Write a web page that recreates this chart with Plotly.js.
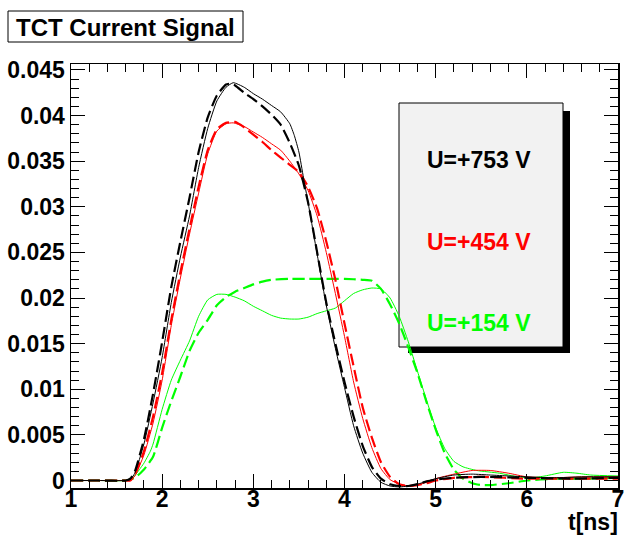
<!DOCTYPE html>
<html>
<head>
<meta charset="utf-8">
<script src="https://cdn.plot.ly/plotly-3.0.1.min.js"></script>
<style>html,body{margin:0;padding:0;background:#fff;}#chart{width:644px;height:542px;}</style>
</head>
<body>
<div id="chart"></div>
<script>
// ---- data (t in ns, current signal) ----
const t753s = [1.0,1.3,1.6,1.65,1.7,1.8,1.9,2.0,2.1,2.2,2.3,2.4,2.5,2.6,2.7,2.78,2.9,3.0,3.1,3.2,3.3,3.4,3.45,3.5,3.55,3.6,3.7,3.8,3.9,4.0,4.1,4.2,4.3,4.4,4.5,4.6,4.7,4.8,4.9,5.0,5.2,5.4,5.6,5.8,6.0,6.3,6.6,7.0];
const v753s = [0,0,0,0.0001,0.0008,0.0040,0.0085,0.0135,0.0195,0.0245,0.0290,0.0343,0.0386,0.0416,0.0431,0.0436,0.0431,0.0424,0.0418,0.0411,0.0404,0.0391,0.0378,0.0360,0.0332,0.0305,0.0248,0.0192,0.0145,0.0102,0.0060,0.0030,0.0009,-0.0002,-0.0006,-0.0007,-0.0006,-0.0004,-0.0001,0.0002,0.0006,0.0007,0.0006,0.0005,0.0004,0.0003,0.0004,0.0004];

const t753d = [1.0,1.3,1.6,1.65,1.7,1.8,1.9,2.0,2.1,2.2,2.3,2.4,2.5,2.6,2.7,2.75,2.8,2.9,3.0,3.1,3.2,3.3,3.4,3.5,3.6,3.7,3.8,3.9,4.0,4.1,4.2,4.3,4.4,4.5,4.6,4.7,4.8,4.9,5.0,5.2,5.5,6.0,6.5,7.0];
const v753d = [0,0,0,0.0002,0.0010,0.0045,0.0095,0.0152,0.0212,0.0262,0.0310,0.0360,0.0398,0.0422,0.0434,0.0435,0.0433,0.0425,0.0418,0.0410,0.0401,0.0390,0.0370,0.0345,0.0305,0.0250,0.0195,0.0150,0.0108,0.0070,0.0038,0.0015,0.0002,-0.0004,-0.0006,-0.0006,-0.0004,-0.0001,0.0001,0.0003,0.0004,0.0003,0.0002,0.0003];

const t454s = [1.0,1.3,1.6,1.65,1.7,1.8,1.9,2.0,2.1,2.2,2.3,2.4,2.5,2.6,2.7,2.78,2.9,3.0,3.1,3.2,3.3,3.4,3.5,3.6,3.7,3.8,3.9,4.0,4.1,4.2,4.3,4.4,4.5,4.6,4.7,4.8,4.9,5.0,5.2,5.4,5.6,5.8,6.0,6.3,6.6,7.0];
const v454s = [0,0,0,0,0.0005,0.0028,0.0063,0.0110,0.0170,0.0222,0.0270,0.0315,0.0358,0.0383,0.0391,0.0392,0.0388,0.0382,0.0376,0.0369,0.0362,0.0350,0.0336,0.0318,0.0290,0.0250,0.0205,0.0158,0.0108,0.0068,0.0036,0.0013,0.0001,-0.0004,-0.0006,-0.0005,-0.0002,0.0002,0.0007,0.0011,0.0011,0.0008,0.0004,0.0003,0.0004,0.0004];

const t454d = [1.0,1.3,1.6,1.65,1.7,1.8,1.9,2.0,2.1,2.2,2.3,2.4,2.5,2.6,2.7,2.8,2.9,3.0,3.1,3.2,3.3,3.4,3.5,3.6,3.7,3.8,3.9,4.0,4.1,4.2,4.3,4.4,4.5,4.6,4.7,4.8,4.9,5.0,5.2,5.5,6.0,6.5,7.0];
const v454d = [0,0,0,0,0.0006,0.0032,0.0070,0.0118,0.0176,0.0228,0.0276,0.0322,0.0362,0.0385,0.0392,0.0393,0.0387,0.0379,0.0371,0.0362,0.0354,0.0346,0.0338,0.0322,0.0298,0.0262,0.0220,0.0172,0.0125,0.0080,0.0047,0.0020,0.0004,-0.0004,-0.0006,-0.0005,-0.0003,0.0000,0.0003,0.0004,0.0002,0.0002,0.0002];

const t154s = [1.0,1.3,1.6,1.68,1.75,1.8,1.87,1.9,2.0,2.1,2.2,2.3,2.4,2.5,2.6,2.7,2.8,2.9,3.0,3.1,3.2,3.3,3.4,3.5,3.6,3.7,3.8,3.9,4.0,4.1,4.2,4.3,4.4,4.5,4.6,4.7,4.8,4.9,5.0,5.1,5.2,5.3,5.45,5.7,5.9,6.05,6.2,6.4,6.55,6.7,7.0];
const v154s = [0,0,0,0.0003,0.0012,0.0019,0.0032,0.0040,0.0078,0.0110,0.0132,0.0153,0.0180,0.0198,0.0204,0.0204,0.0201,0.0197,0.0191,0.0186,0.0181,0.0178,0.0177,0.0177,0.0179,0.0183,0.0186,0.0189,0.0197,0.0205,0.0209,0.0211,0.0210,0.0200,0.0180,0.0152,0.0120,0.0088,0.0058,0.0035,0.0021,0.0015,0.0011,0.0008,0.0004,0.0003,0.0005,0.0009,0.0008,0.0006,0.0005];

const t154d = [1.0,1.3,1.6,1.7,1.76,1.8,1.9,2.0,2.1,2.2,2.3,2.4,2.5,2.6,2.7,2.8,2.9,3.0,3.1,3.2,3.4,3.6,3.8,4.0,4.2,4.3,4.4,4.5,4.6,4.7,4.8,4.9,5.0,5.1,5.2,5.3,5.4,5.5,5.6,5.8,6.0,6.3,6.6,7.0];
const v154d = [0,0,0,0.0003,0.0008,0.0012,0.0026,0.0058,0.0087,0.0114,0.0142,0.0162,0.0176,0.0192,0.0201,0.0207,0.0211,0.0215,0.0218,0.0220,0.0221,0.0221,0.0221,0.0221,0.0220,0.0219,0.0210,0.0193,0.0172,0.0146,0.0118,0.0086,0.0056,0.0030,0.0012,0.0002,-0.0003,-0.0005,-0.0005,-0.0003,0.0000,0.0002,0.0002,0.0003];

const xTickVals = [1,2,3,4,5,6,7];
const xTickText = ["1","2","3","4","5","6","7"];
const yTickVals = [0,0.005,0.01,0.015,0.02,0.025,0.03,0.035,0.04,0.045];
const yTickText = ["0","0.005","0.01","0.015","0.02","0.025","0.03","0.035","0.04","0.045"];
const xMinorStep = 0.2, yMinorStep = 0.001;
const legendLabels = ["U=+753 V","U=+454 V","U=+154 V"];
const seriesColors = ["#000000","#ff0000","#00ff00"];
const chartTitle = "TCT Current Signal";
const xTitle = "t[ns]";

// ---- layout geometry (pixels) ----
const W = 644, H = 542;
const M = {l:71, r:26, t:64, b:54};
const PW = W - M.l - M.r, PH = H - M.t - M.b;
const px = x => (x - M.l) / PW;
const py = y => (H - M.b - y) / PH;
const xRange = [1, 7], yRange = [-0.00082, 0.04565];

function minorVals(lo, hi, step) {
  const out = [];
  const n0 = Math.ceil(lo / step - 1e-9), n1 = Math.floor(hi / step + 1e-9);
  for (let n = n0; n <= n1; n++) out.push(+(n * step).toFixed(6));
  return out;
}

const FONT = "Liberation Sans, Arial, Helvetica, sans-serif";

function solid(t, v, c) {
  return {x:t, y:v, type:'scatter', mode:'lines', hoverinfo:'skip', showlegend:false,
          line:{color:c, width:1, shape:'spline', smoothing:0.5}};
}
function dashed(t, v, c) {
  return {x:t, y:v, type:'scatter', mode:'lines', hoverinfo:'skip', showlegend:false,
          line:{color:c, width:2.2, dash:'12px,5px', shape:'spline', smoothing:0.5}};
}

const data = [
  solid(t154s, v154s, seriesColors[2]),
  dashed(t154d, v154d, seriesColors[2]),
  solid(t454s, v454s, seriesColors[1]),
  dashed(t454d, v454d, seriesColors[1]),
  solid(t753s, v753s, seriesColors[0]),
  dashed(t753d, v753d, seriesColors[0])
];

const axisCommon = {
  showline:true, linecolor:'black', linewidth:1.5, mirror:'allticks',
  ticks:'inside', ticklen:14, tickwidth:1, tickcolor:'black',
  showgrid:false, zeroline:false, tickmode:'array',
  tickfont:{family:FONT, size:23, color:'black', weight:'bold'}
};

const layout = {
  width:W, height:H, margin:M,
  paper_bgcolor:'white', plot_bgcolor:'rgba(0,0,0,0)',
  showlegend:false,
  xaxis: Object.assign({}, axisCommon, {
    range:xRange, tickvals:xTickVals, ticktext:xTickText, ticklabelstandoff:-10,
    minor:{tickmode:'array', tickvals:minorVals(xRange[0], xRange[1], xMinorStep),
           ticks:'inside', ticklen:8, tickwidth:1, tickcolor:'black'}
  }),
  yaxis: Object.assign({}, axisCommon, {
    range:yRange, tickvals:yTickVals, ticktext:yTickText, ticklabelstandoff:0,
    minor:{tickmode:'array', tickvals:minorVals(yRange[0], yRange[1], yMinorStep),
           ticks:'inside', ticklen:8, tickwidth:1, tickcolor:'black'}
  }),
  shapes: [
    {type:'rect', xref:'paper', yref:'paper', x0:px(8), x1:px(243), y0:py(42), y1:py(11),
     line:{color:'black', width:1}, fillcolor:'white', layer:'above'},
    {type:'rect', xref:'paper', yref:'paper', x0:px(408), x1:px(570), y0:py(353), y1:py(111),
     line:{width:0}, fillcolor:'black', layer:'below'},
    {type:'rect', xref:'paper', yref:'paper', x0:px(399), x1:px(563), y0:py(347), y1:py(103),
     line:{color:'black', width:1}, fillcolor:'#f2f2f2', layer:'below'}
  ],
  annotations: [
    {xref:'paper', yref:'paper', x:px(125.5), y:py(27), text:chartTitle, showarrow:false,
     xanchor:'center', yanchor:'middle', font:{family:FONT, size:24, color:'black', weight:'bold'}},
    {xref:'paper', yref:'paper', x:px(479), y:py(160), text:legendLabels[0], showarrow:false,
     xanchor:'center', yanchor:'middle', font:{family:FONT, size:23, color:seriesColors[0], weight:'bold'}},
    {xref:'paper', yref:'paper', x:px(479), y:py(242), text:legendLabels[1], showarrow:false,
     xanchor:'center', yanchor:'middle', font:{family:FONT, size:23, color:seriesColors[1], weight:'bold'}},
    {xref:'paper', yref:'paper', x:px(479), y:py(323), text:legendLabels[2], showarrow:false,
     xanchor:'center', yanchor:'middle', font:{family:FONT, size:23, color:seriesColors[2], weight:'bold'}},
    {xref:'paper', yref:'paper', x:px(620), y:py(522), text:xTitle, showarrow:false,
     xanchor:'right', yanchor:'middle', font:{family:FONT, size:23, color:'black', weight:'bold'}}
  ]
};

Plotly.newPlot('chart', data, layout, {staticPlot:true, displayModeBar:false});
</script>
</body>
</html>
